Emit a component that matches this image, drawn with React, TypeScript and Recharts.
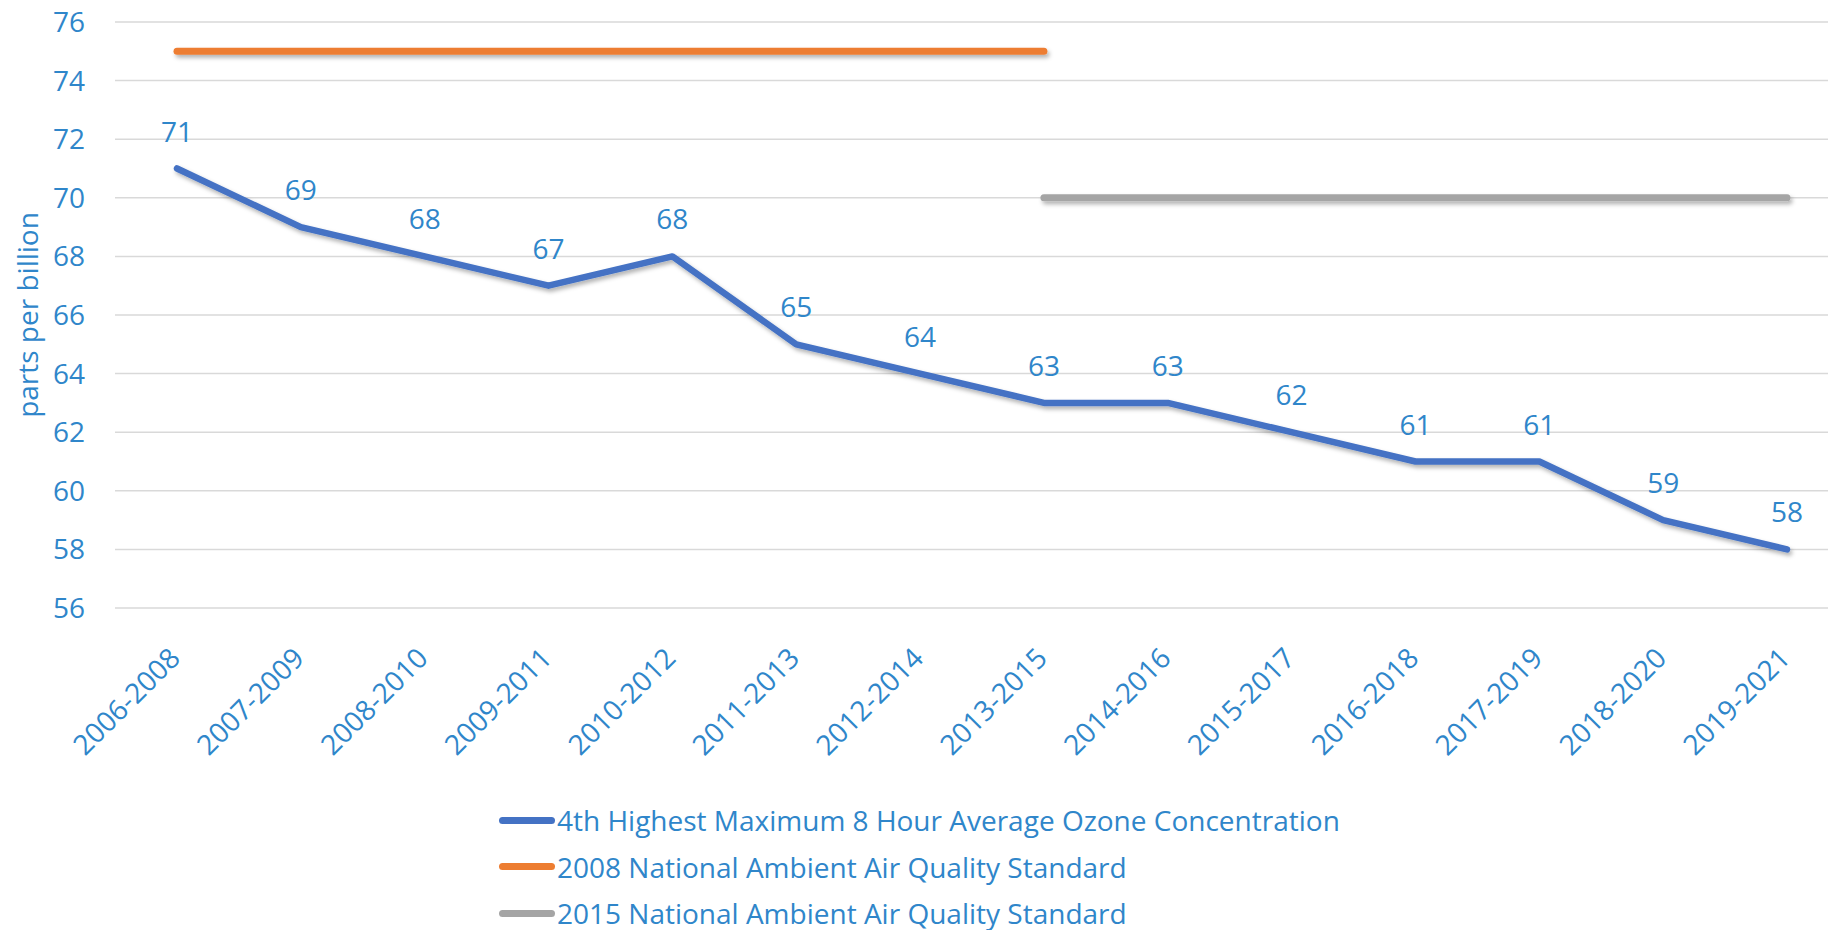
import React from 'react';
import { LineChart, Line, XAxis, YAxis, CartesianGrid, Legend, LabelList, Label } from 'recharts';

const periods = [
  '2006-2008', '2007-2009', '2008-2010', '2009-2011', '2010-2012', '2011-2013', '2012-2014',
  '2013-2015', '2014-2016', '2015-2017', '2016-2018', '2017-2019', '2018-2020', '2019-2021',
];
const ozone = [71, 69, 68, 67, 68, 65, 64, 63, 63, 62, 61, 61, 59, 58];
const std2008 = [75, 75, 75, 75, 75, 75, 75, 75, null, null, null, null, null, null];
const std2015 = [null, null, null, null, null, null, null, 70, 70, 70, 70, 70, 70, 70];
const yTicks = [56, 58, 60, 62, 64, 66, 68, 70, 72, 74, 76];

const seriesNames = [
  '4th Highest Maximum 8 Hour Average Ozone Concentration',
  '2008 National Ambient Air Quality Standard',
  '2015 National Ambient Air Quality Standard',
];
const seriesColors = ['#4472C4', '#ED7D31', '#A5A5A5'];

const data = periods.map((p, i) => ({
  period: p,
  ozone: ozone[i],
  std2008: std2008[i],
  std2015: std2015[i],
}));

const FONT = '"Open Sans", sans-serif';
const TEXT = '#2F86CA';

const XTick = (props: any) => {
  const { x, y, payload } = props;
  return (
    <text
      x={x - 2}
      y={y + 37}
      dy="0.35em"
      textAnchor="end"
      transform={`rotate(-45, ${x - 2}, ${y + 37})`}
      fill={TEXT}
      fontSize={28}
      fontFamily={FONT}
    >
      {payload.value}
    </text>
  );
};

const YLabel = (props: any) => {
  const vb = props.viewBox || {};
  const cx = 28;
  const cy = vb.y + vb.height / 2;
  return (
    <text
      x={cx}
      y={cy}
      dy="0.35em"
      textAnchor="middle"
      transform={`rotate(-90, ${cx}, ${cy})`}
      fill={TEXT}
      fontSize={28}
      fontFamily={FONT}
    >
      parts per billion
    </text>
  );
};

const LegendBox = () => (
  <div style={{ fontFamily: FONT, fontSize: 28, color: TEXT }}>
    {seriesNames.map((name, i) => (
      <div key={name} style={{ display: 'flex', alignItems: 'center', height: 46.5, whiteSpace: 'nowrap' }}>
        <span
          style={{
            display: 'inline-block',
            width: 56,
            height: 7,
            borderRadius: 4,
            background: seriesColors[i],
            marginRight: 2,
          }}
        />
        <span>{name}</span>
      </div>
    ))}
  </div>
);

export default function App() {
  return (
    <div style={{ position: 'absolute', left: 0, top: 0, width: 1828, height: 930, background: '#fff' }}>
      <LineChart width={1828} height={930} data={data} margin={{ top: 22, right: 0, left: 0, bottom: 0 }}>
        <defs>
          <filter id="shadow" filterUnits="userSpaceOnUse" x="0" y="0" width="1828" height="930">
            <feDropShadow dx="2" dy="3" stdDeviation="2" floodColor="#000" floodOpacity="0.3" />
          </filter>
        </defs>
        <CartesianGrid vertical={false} stroke="#D9D9D9" strokeWidth={1.5} />
        <XAxis
          dataKey="period"
          interval={0}
          height={322}
          padding={{ left: 62, right: 41 }}
          axisLine={false}
          tickLine={false}
          tick={<XTick />}
        />
        <YAxis
          width={115}
          domain={[56, 76]}
          ticks={yTicks}
          interval={0}
          axisLine={false}
          tickLine={false}
          tickSize={0}
          tickMargin={30}
          tick={{ fill: TEXT, fontSize: 28, fontFamily: FONT }}
        >
          <Label content={<YLabel />} />
        </YAxis>
        <Legend
          layout="vertical"
          align="center"
          verticalAlign="middle"
          content={<LegendBox />}
          wrapperStyle={{ left: 499, top: 797, width: 1000, height: 140 }}
        />
        <Line
          dataKey="std2008"
          stroke={seriesColors[1]}
          strokeWidth={7}
          strokeLinecap="round"
          dot={false}
          activeDot={false}
          connectNulls={false}
          isAnimationActive={false}
          filter="url(#shadow)"
        />
        <Line
          dataKey="std2015"
          stroke={seriesColors[2]}
          strokeWidth={7}
          strokeLinecap="round"
          dot={false}
          activeDot={false}
          connectNulls={false}
          isAnimationActive={false}
          filter="url(#shadow)"
        />
        <Line
          dataKey="ozone"
          stroke={seriesColors[0]}
          strokeWidth={6.5}
          strokeLinecap="round"
          strokeLinejoin="round"
          dot={false}
          activeDot={false}
          isAnimationActive={false}
          filter="url(#shadow)"
        >
          <LabelList dataKey="ozone" position="top" offset={27} fill={TEXT} fontSize={28} fontFamily={FONT} />
        </Line>
      </LineChart>
    </div>
  );
}
